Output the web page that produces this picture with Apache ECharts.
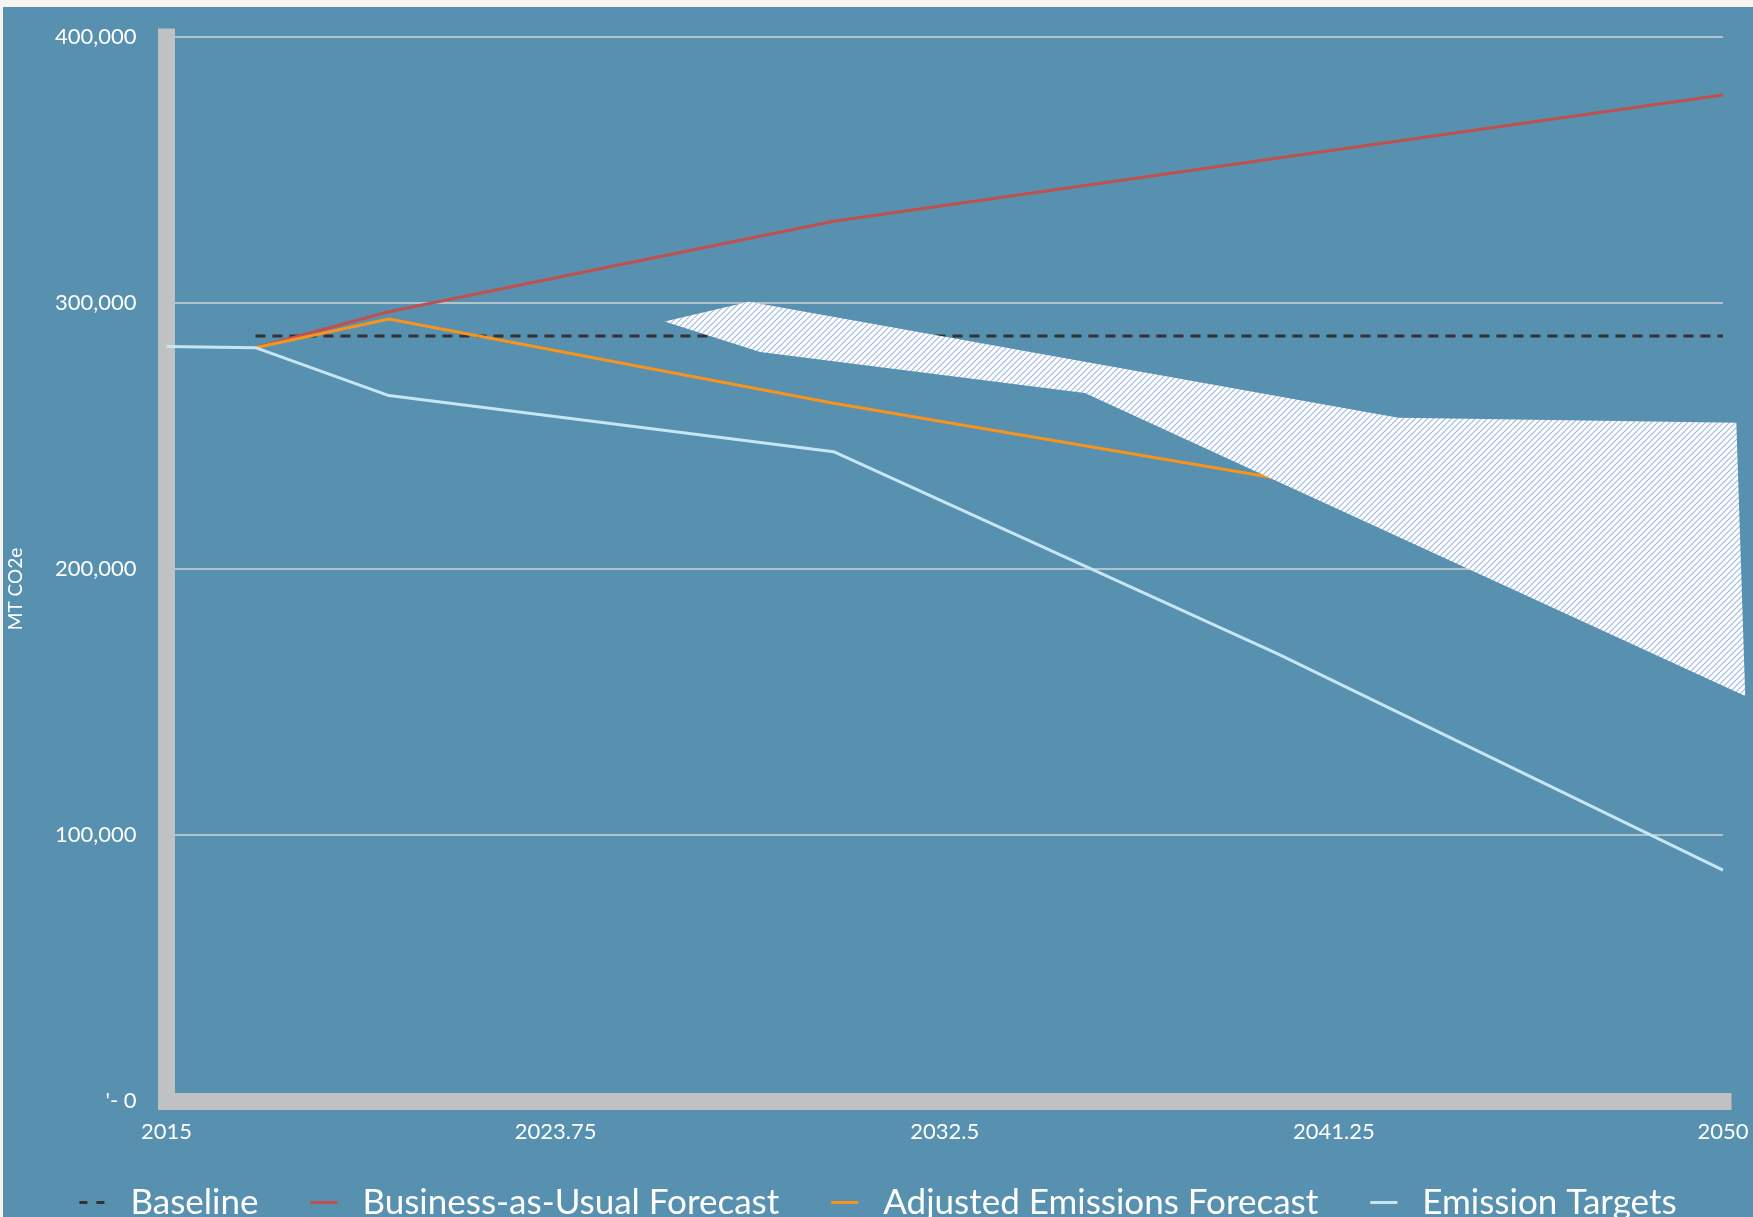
<!DOCTYPE html>
<html>
<head>
<meta charset="utf-8">
<title>Emissions forecast</title>
<script src="https://cdn.jsdelivr.net/npm/echarts@6/dist/echarts.min.js"></script>
<style>
  html, body { margin: 0; padding: 0; background: #f7f3ee; overflow: hidden; }
  #chart { position: absolute; left: 3px; top: 7px; width: 1750px; height: 1210px; }
</style>
</head>
<body>
<div id="chart"></div>
<script>
// values
const years = [2015, 2017, 2020, 2030, 2040, 2050];
const baseline = [null, 287600, 287600, 287600, 287600, 287600];
const businessAsUsual = [null, 283200, 296700, 330700, 354500, 378200];
const adjustedForecast = [null, 283200, 294000, 262300, 234000, null];
const emissionTargets = [283600, 283200, 265200, 244100, 168000, 86800];

// outline of the hatched uncertainty band (clockwise)
const bandYears = [2026.2, 2028.1, 2042.7, 2050.3, 2050.5, 2035.65, 2028.35];
const bandValues = [293000, 300500, 256900, 255000, 152300, 266200, 281600];

const startYear = 2015;
const legendNames = ['Baseline', 'Business-as-Usual Forecast', 'Adjusted Emissions Forecast', 'Emission Targets'];

const FONT = 'Lato';
const toPairs = (vals) => years
  .map((y, i) => [y - startYear, vals[i]])
  .filter(p => p[1] !== null);

// white/blue diagonal hatch used for the band
const makeHatch = () => {
  const c = document.createElement('canvas');
  c.width = 6; c.height = 6;
  const g = c.getContext('2d');
  g.fillStyle = '#ffffff';
  g.fillRect(0, 0, 6, 6);
  g.strokeStyle = '#9db8e2';
  g.lineWidth = 1.1;
  g.beginPath();
  g.moveTo(-1, 7); g.lineTo(7, -1);
  g.moveTo(-4, 4); g.lineTo(4, -4);
  g.moveTo(2, 10); g.lineTo(10, 2);
  g.stroke();
  return c;
};
const hatch = makeHatch();

const chart = echarts.init(document.getElementById('chart'), null, { renderer: 'canvas' });

const lineSeries = (name, vals, color, extra) => Object.assign({
  name,
  type: 'line',
  data: toPairs(vals),
  symbol: 'none',
  z: 2,
  lineStyle: { color, width: 3 },
  itemStyle: { color },
  animation: false
}, extra || {});

chart.setOption({
  backgroundColor: '#5890b0',
  animation: false,
  textStyle: { fontFamily: FONT },
  grid: { left: 163.5, right: 30, top: 30, bottom: 116, containLabel: false },
  xAxis: {
    type: 'value',
    min: 0,
    max: 35,
    interval: 8.75,
    axisLine: { show: true, lineStyle: { color: '#bfc1c3', width: 17, cap: 'square' } },
    axisTick: { show: false },
    splitLine: { show: false },
    axisLabel: {
      margin: 20,
      color: '#ffffff',
      fontSize: 22,
      fontFamily: FONT,
      formatter: (v) => String(startYear + v)
    }
  },
  yAxis: {
    type: 'value',
    min: 0,
    max: 400000,
    interval: 100000,
    axisLine: { show: true, lineStyle: { color: '#bfc1c3', width: 17, cap: 'square' } },
    axisTick: { show: false },
    splitLine: { show: true, lineStyle: { color: '#d2d5d8', width: 1.5 } },
    axisLabel: {
      margin: 30,
      color: '#ffffff',
      fontSize: 22,
      fontFamily: FONT,
      formatter: (v) => v === 0 ? "'- 0" : v.toLocaleString('en-US')
    }
  },
  graphic: [{
    type: 'text',
    x: 13,
    y: 582,
    rotation: Math.PI / 2,
    style: {
      text: 'MT CO2e',
      fill: '#ffffff',
      font: '19px ' + FONT,
      align: 'center',
      verticalAlign: 'middle'
    }
  }],
  legend: {
    left: 'center',
    top: 1173,
    itemWidth: 27,
    itemHeight: 3,
    itemGap: 52,
    data: [
      { name: legendNames[0], icon: 'path://M0,0h8v3h-8z M17,0h8v3h-8z' },
      { name: legendNames[1], icon: 'rect' },
      { name: legendNames[2], icon: 'rect' },
      { name: legendNames[3], icon: 'rect' }
    ],
    textStyle: { color: '#ffffff', fontSize: 35, fontFamily: FONT, padding: [0, 0, 0, 20] }
  },
  series: [
    lineSeries(legendNames[0], baseline, '#333333', {
      lineStyle: { color: '#333333', width: 3, type: [10, 7] }
    }),
    lineSeries(legendNames[1], businessAsUsual, '#c0504d'),
    lineSeries(legendNames[2], adjustedForecast, '#f7941d'),
    lineSeries(legendNames[3], emissionTargets, '#c6e6f5'),
    {
      type: 'custom',
      name: 'band',
      z: 3,
      silent: true,
      data: bandYears.map((y, i) => [y - startYear, bandValues[i]]),
      renderItem: (params, api) => {
        if (params.dataIndex !== 0) return;
        const pts = bandYears.map((y, i) => api.coord([y - startYear, bandValues[i]]));
        return {
          type: 'polygon',
          shape: { points: pts },
          style: { fill: { image: hatch, repeat: 'repeat' }, stroke: null }
        };
      }
    }
  ]
});
</script>
</body>
</html>
